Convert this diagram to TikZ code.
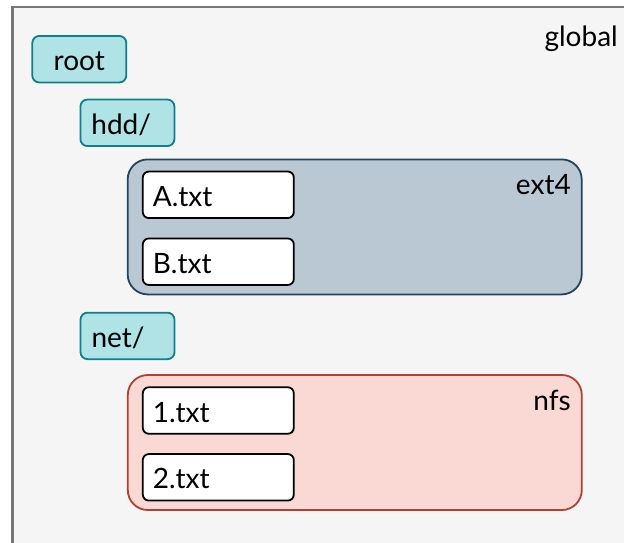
\documentclass[tikz,border=0pt]{standalone}
\usepackage{fontspec}
\setmainfont{Lato}
\definecolor{framefill}{HTML}{F5F5F5}
\definecolor{framedraw}{HTML}{777777}
\definecolor{dirfill}{HTML}{B0E3E6}
\definecolor{dirdraw}{HTML}{0E8088}
\definecolor{extfill}{HTML}{BAC8D3}
\definecolor{extdraw}{HTML}{23445D}
\definecolor{nfsfill}{HTML}{FAD9D5}
\definecolor{nfsdraw}{HTML}{AE4132}
\begin{document}
\begin{tikzpicture}[x=1pt,y=-1pt,
  every node/.style={font=\fontsize{28}{34}\selectfont},
  dirbox/.style={draw=dirdraw, fill=dirfill, line width=1.8pt, rounded corners=7pt,
    inner xsep=11pt, inner ysep=0pt, text width=72pt, align=left,
    minimum height=46.5pt, text height=23pt, text depth=0pt},
  filebox/.style={draw=black, fill=white, line width=1.8pt, rounded corners=6pt,
    inner xsep=10pt, inner ysep=0pt, text width=131pt, align=left,
    minimum height=46.5pt, text height=23pt, text depth=0pt},
  mountbox/.style={line width=1.8pt, rounded corners=20pt,
    minimum width=454pt, minimum height=135pt, inner sep=0pt},
  tag/.style={anchor=base east, inner sep=0pt}]
\useasboundingbox (0,0) rectangle (624,542);
% outer namespace frame, running past the page edges
\begin{scope}
  \clip (0,0) rectangle (624,542);
  \draw[framedraw, fill=framefill, line width=2.5pt] (12.5,7) rectangle (660,580);
\end{scope}
\node[tag] (global) at (618,46) {global};

% directories
\node[dirbox, align=center] (root) at (79.3,59.2) {root};
\node[dirbox] (hdd) at (127.4,122.8) {hdd/};
\node[dirbox] (net) at (127.5,335.9) {net/};

% mounted file systems
\node[mountbox, draw=extdraw, fill=extfill] (ext4) at (354.7,226.9) {};
\node[tag] (ext4lbl) at (571,194.3) {ext4};
\node[mountbox, draw=nfsdraw, fill=nfsfill] (nfs) at (354.8,442.5) {};
\node[tag] (nfslbl) at (571,410) {nfs};

% files
\node[filebox] (A) at (218.3,194.8) {A.txt};
\node[filebox] (B) at (218.3,261.7) {B.txt};
\node[filebox] (one) at (218.3,410.5) {1.txt};
\node[filebox] (two) at (218.3,477.3) {2.txt};
\end{tikzpicture}
\end{document}
